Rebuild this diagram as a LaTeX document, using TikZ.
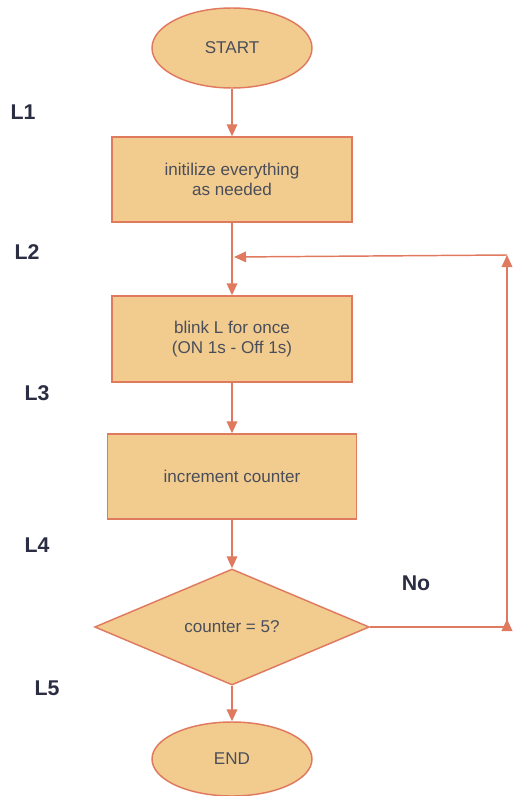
\documentclass[tikz,border=0pt]{standalone}
\usepackage{fontspec}
\setmainfont{Liberation Sans}
\usetikzlibrary{shapes.geometric,arrows.meta}
\definecolor{boxfill}{HTML}{F2CC8F}
\definecolor{boxline}{HTML}{E07A5F}
\definecolor{txt}{HTML}{4A4E5A}
\definecolor{lbl}{HTML}{2B2D42}
\begin{document}
\begin{tikzpicture}[x=0.75pt,y=-0.75pt,
  shapebase/.style={draw=boxline,fill=boxfill,line width=1.1pt,text=txt,font=\fontsize{12.8pt}{15.5pt}\selectfont,align=center,inner sep=0pt},
  term/.style={shapebase,ellipse,minimum width=120pt,minimum height=60pt},
  proc/.style={shapebase,rectangle,minimum width=180pt},
  decision/.style={shapebase,diamond,minimum width=206pt,minimum height=87pt},
  conn/.style={draw=boxline,line width=1.1pt,-{Triangle[length=9pt,width=8pt]}},
  plain/.style={draw=boxline,line width=1.1pt},
  steplbl/.style={text=lbl,font=\fontsize{16pt}{19pt}\selectfont\bfseries}]
\useasboundingbox (0,0) rectangle (512,796);
\node[term] (start) at (232,48) {START};
\node[proc,minimum height=63.75pt] (init) at (232,179.5) {initilize everything\\as needed};
\node[proc,minimum height=64.5pt] (blink) at (232,339) {blink L for once\\(ON 1s - Off 1s)};
\node[proc,minimum width=186.75pt,minimum height=63.75pt] (inc) at (232,476.5) {increment counter};
\node[decision] (dec) at (232,627) {counter = 5?};
\node[term,minimum height=55.5pt] (end) at (232,759) {END};
\coordinate (c1) at (507,627);
\coordinate (c2) at (507,255);
\coordinate (c3) at (234,257);
\draw[conn] (start) -- (init);
\draw[conn] (init) -- (blink);
\draw[conn] (blink) -- (inc);
\draw[conn] (inc) -- (dec);
\draw[conn] (dec) -- (end);
\draw[plain] (dec.east) -- (c1);
\draw[conn] (c1) ++(0,2) -- ++(0,-10);
\draw[conn] (c1) -- (c2);
\draw[conn] (c2) -- (c3);
\node[steplbl] (no) at (416,583) {No};
\node[steplbl] (l1) at (23,112) {L1};
\node[steplbl] (l2) at (27,252) {L2};
\node[steplbl] (l3) at (37,393) {L3};
\node[steplbl] (l4) at (37,545) {L4};
\node[steplbl] (l5) at (47,688) {L5};
\end{tikzpicture}
\end{document}
